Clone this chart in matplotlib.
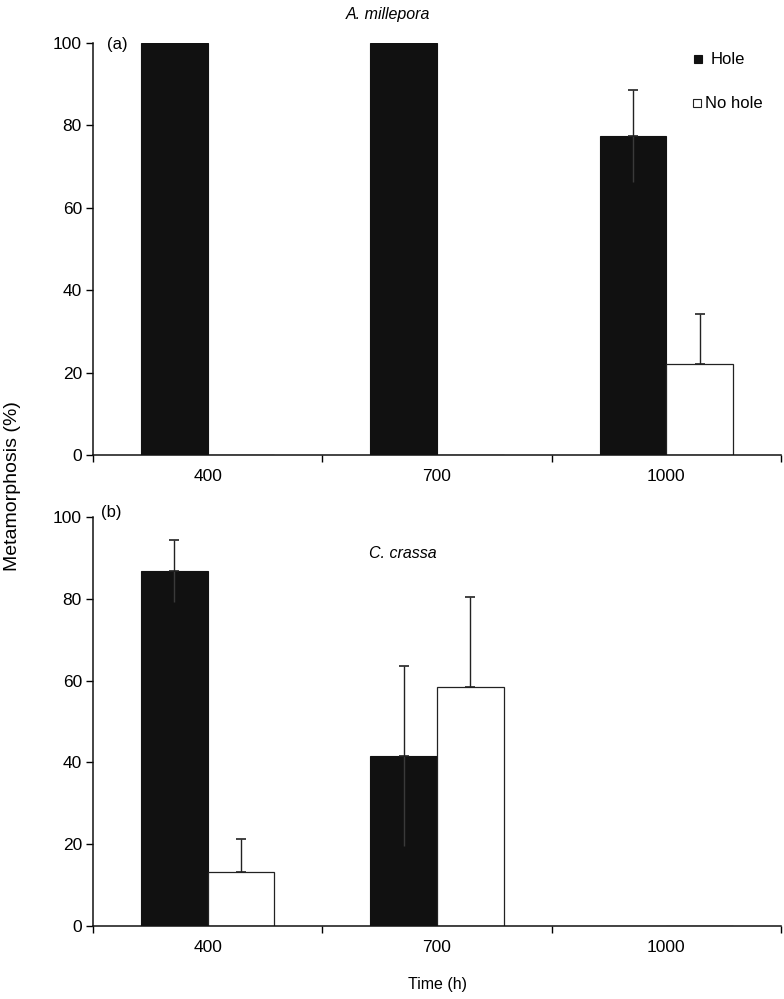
import matplotlib
matplotlib.use("Agg")
import matplotlib.pyplot as plt
import numpy as np
from matplotlib.patches import Rectangle

plt.rcParams['font.family'] = ['Liberation Sans', 'DejaVu Sans']

categories = ["400", "700", "1000"]
series_names = ["Hole", "No hole"]

# Panel (a) A. millepora
a_hole = [100, 100, 77.5]
a_hole_err = [0, 0, 11.2]
a_nohole = [0, 0, 22.2]
a_nohole_err = [0, 0, 12.0]

# Panel (b) C. crassa
b_hole = [86.8, 41.6, 0]
b_hole_err = [7.6, 22.0, 0]
b_nohole = [13.3, 58.4, 0]
b_nohole_err = [8.0, 22.0, 0]

yticks = [0, 20, 40, 60, 80, 100]

W, H = 784, 999
fig = plt.figure(figsize=(W / 100, H / 100), dpi=100)

left = 93 / W
right = 781 / W
axw = right - left

def px_axes(y_top, y_bottom):
    return [left, 1 - y_bottom / H, axw, (y_bottom - y_top) / H]

ax1 = fig.add_axes(px_axes(43, 455))
ax2 = fig.add_axes(px_axes(517, 926))

bw = 0.29
x = np.arange(len(categories))

def draw(ax, hole, hole_err, nohole, nohole_err):
    ax.bar(x - bw / 2, hole, bw, color='#111111', edgecolor='#111111', linewidth=0.8, zorder=2)
    ax.bar(x + bw / 2, nohole, bw, color='white', edgecolor='#222222', linewidth=0.9, zorder=2)
    for xi, v, e in zip(x - bw / 2, hole, hole_err):
        if e > 0:
            # lower part inside the dark bar, no cap
            ax.errorbar(xi, v, yerr=[[e], [0]], fmt='none', ecolor='#3a3a3a',
                        elinewidth=1.0, capsize=0, zorder=3)
            ax.errorbar(xi, v, yerr=[[0], [e]], fmt='none', ecolor='#222222',
                        elinewidth=1.0, capsize=3.5, capthick=1.2, zorder=3)
    for xi, v, e in zip(x + bw / 2, nohole, nohole_err):
        if e > 0:
            ax.errorbar(xi, v, yerr=[[0], [e]], fmt='none', ecolor='#222222',
                        elinewidth=1.0, capsize=3.5, capthick=1.2, zorder=3)
    ax.set_xlim(-0.5, len(categories) - 0.5)
    ax.set_ylim(0, 100)
    ax.set_yticks(yticks)
    ax.set_yticklabels([str(t) for t in yticks], fontsize=12.5)
    ax.set_xticks(x)
    ax.set_xticklabels(categories, fontsize=12.5)
    ax.tick_params(axis='x', which='major', length=0, pad=10)
    ax.set_xticks(np.arange(-0.5, len(categories), 1.0), minor=True)
    ax.tick_params(axis='x', which='minor', length=5, width=1.0, direction='out')
    ax.tick_params(axis='y', length=5, width=1.0, direction='out', pad=3)
    for s in ['top', 'right']:
        ax.spines[s].set_visible(False)
    for s in ['left', 'bottom']:
        ax.spines[s].set_linewidth(1.1)
        ax.spines[s].set_color('#111111')

draw(ax1, a_hole, a_hole_err, a_nohole, a_nohole_err)
draw(ax2, b_hole, b_hole_err, b_nohole, b_nohole_err)

# Panel labels and titles
fig.text(117 / W, 1 - 45 / H, "(a)", fontsize=12, ha='center', va='center')
fig.text(111 / W, 1 - 512 / H, "(b)", fontsize=12, ha='center', va='center')
fig.text(388 / W, 1 - 14 / H, "A. millepora", fontsize=11.5, style='italic', ha='center', va='center')
fig.text(403 / W, 1 - 553 / H, "C. crassa", fontsize=11.5, style='italic', ha='center', va='center')

# Axis labels
fig.text(13 / W, 1 - 486 / H, "Metamorphosis (%)", fontsize=14, rotation=90, ha='center', va='center')
fig.text(437 / W, 1 - 985 / H, "Time (h)", fontsize=11.5, ha='center', va='center')

# Legend
sq = 8
fig.add_artist(Rectangle(((698 - sq / 2) / W, 1 - (59 + sq / 2) / H), sq / W, sq / H,
                         transform=fig.transFigure, facecolor='#111111', edgecolor='#111111', lw=0.8))
fig.text(711 / W, 1 - 59 / H, series_names[0], fontsize=12, ha='left', va='center')
fig.add_artist(Rectangle(((697 - sq / 2) / W, 1 - (103 + sq / 2) / H), sq / W, sq / H,
                         transform=fig.transFigure, facecolor='white', edgecolor='#222222', lw=0.8))
fig.text(705 / W, 1 - 103 / H, series_names[1], fontsize=12, ha='left', va='center')

fig.savefig("out.png", dpi=100, facecolor='white')
